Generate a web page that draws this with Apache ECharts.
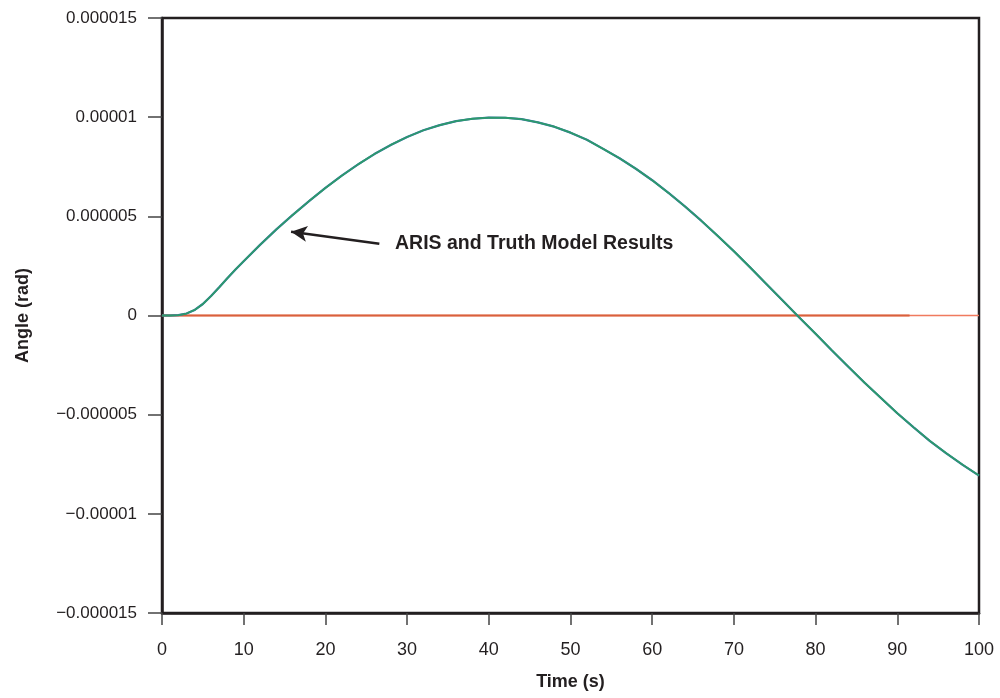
<!DOCTYPE html>
<html>
<head>
<meta charset="utf-8">
<script src="https://cdn.jsdelivr.net/npm/echarts@6/dist/echarts.min.js"></script>
<style>
  html, body { margin: 0; padding: 0; background: #fff; }
  #chart { width: 1000px; height: 698px; }
</style>
</head>
<body>
<div id="chart"></div>
<script>
// time (s) and angle (rad)
const time = [0, 1, 2, 3, 4, 5, 6, 7, 8, 9, 10, 12, 14, 16, 18, 20, 22, 24, 26, 28, 30, 32, 34, 36, 38, 40,
  42, 44, 46, 48, 50, 52, 54, 56, 58, 60, 62, 64, 66, 68, 70, 72, 74, 76, 78, 80, 82, 84, 86, 88, 90,
  92, 94, 96, 98, 100];
// micro-radians
const angleMicro = [0, 0, 0.02, 0.1, 0.28, 0.58, 0.98, 1.42, 1.88, 2.32, 2.74, 3.56, 4.34, 5.07, 5.77, 6.43,
  7.05, 7.62, 8.14, 8.6, 9.0, 9.34, 9.6, 9.8, 9.92, 9.98, 9.97, 9.9, 9.74, 9.52, 9.22, 8.86, 8.4, 7.93,
  7.4, 6.82, 6.18, 5.5, 4.78, 4.02, 3.24, 2.42, 1.58, 0.74, -0.1, -0.92, -1.76, -2.58, -3.39, -4.16, -4.93,
  -5.64, -6.33, -6.95, -7.53, -8.07];

// zero-level error traces
const errTime1 = [0, 91.5];
const errVal1 = [0, 0];
const errTime2 = [0, 100];
const errVal2 = [0, 0];

const yTicks = [-0.000015, -0.00001, -0.000005, 0, 0.000005, 0.00001, 0.000015];
const yTickLabels = ['\u22120.000015', '\u22120.00001', '\u22120.000005', '0', '0.000005', '0.00001', '0.000015'];

const annotationText = 'ARIS and Truth Model Results';
const arrowFrom = [26.6, 0.00000362];
const arrowTo = [15.8, 0.00000422];

const ink = '#231f20';
const angle = angleMicro.map(v => v * 1e-6);
const pairs = (xs, ys) => xs.map((x, i) => [x, ys[i]]);

const chart = echarts.init(document.getElementById('chart'));

chart.setOption({
  animation: false,
  grid: {
    left: 162, right: 21, top: 18, bottom: 85,
    show: true, borderColor: ink, borderWidth: 2.5, backgroundColor: 'transparent'
  },
  xAxis: {
    type: 'value',
    min: 0, max: 100, interval: 10,
    name: 'Time (s)',
    nameLocation: 'middle',
    nameGap: 60,
    nameTextStyle: { fontFamily: 'Liberation Sans, Arial', fontWeight: 'bold', fontSize: 18, color: ink },
    axisLine: { show: true, onZero: false, lineStyle: { color: ink, width: 2.5 } },
    axisTick: { show: true, inside: false, length: 12, lineStyle: { color: '#444', width: 1.5 } },
    axisLabel: { margin: 28, fontFamily: 'Liberation Sans, Arial', fontSize: 18, color: ink },
    splitLine: { show: false }
  },
  yAxis: {
    type: 'value',
    min: -0.000015, max: 0.000015, interval: 0.000005,
    name: 'Angle (rad)',
    nameLocation: 'middle',
    nameGap: 130,
    nameTextStyle: { fontFamily: 'Liberation Sans, Arial', fontWeight: 'bold', fontSize: 18, color: ink },
    axisLine: { show: true, onZero: false, lineStyle: { color: ink, width: 2.5 } },
    axisTick: { show: true, inside: false, length: 14, lineStyle: { color: '#444', width: 1.5 } },
    axisLabel: {
      margin: 25, fontFamily: 'Liberation Sans, Arial', fontSize: 17, color: ink,
      formatter: v => {
        const i = yTicks.findIndex(t => Math.abs(t - v) < 1e-9);
        return i >= 0 ? yTickLabels[i] : '';
      }
    },
    splitLine: { show: false }
  },
  series: [
    {
      name: 'Error (full)',
      type: 'line',
      data: pairs(errTime2, errVal2),
      symbol: 'none',
      lineStyle: { color: '#f07a5e', width: 1.5 },
      z: 2
    },
    {
      name: 'Error',
      type: 'line',
      data: pairs(errTime1, errVal1),
      symbol: 'none',
      lineStyle: { color: '#d9603c', width: 2 },
      z: 3
    },
    {
      name: 'ARIS',
      type: 'line',
      data: pairs(time, angle),
      symbol: 'none',
      lineStyle: { color: '#3d6fae', width: 2.2 },
      z: 4
    },
    {
      name: 'Truth Model',
      type: 'line',
      data: pairs(time, angle),
      symbol: 'none',
      lineStyle: { color: '#2c9a6c', width: 1.8 },
      z: 5,
      markLine: {
        silent: true,
        symbol: ['none', 'arrow'],
        symbolSize: [12, 16],
        label: { show: false },
        lineStyle: { color: ink, width: 2.5, type: 'solid' },
        data: [[{ coord: arrowFrom }, { coord: arrowTo }]]
      }
    }
  ],
  graphic: [
    {
      type: 'text',
      left: 395,
      top: 234,
      style: {
        text: annotationText,
        fontFamily: 'Liberation Sans, Arial',
        fontWeight: 'bold',
        fontSize: 19.5,
        fill: ink
      }
    }
  ]
});
</script>
</body>
</html>
